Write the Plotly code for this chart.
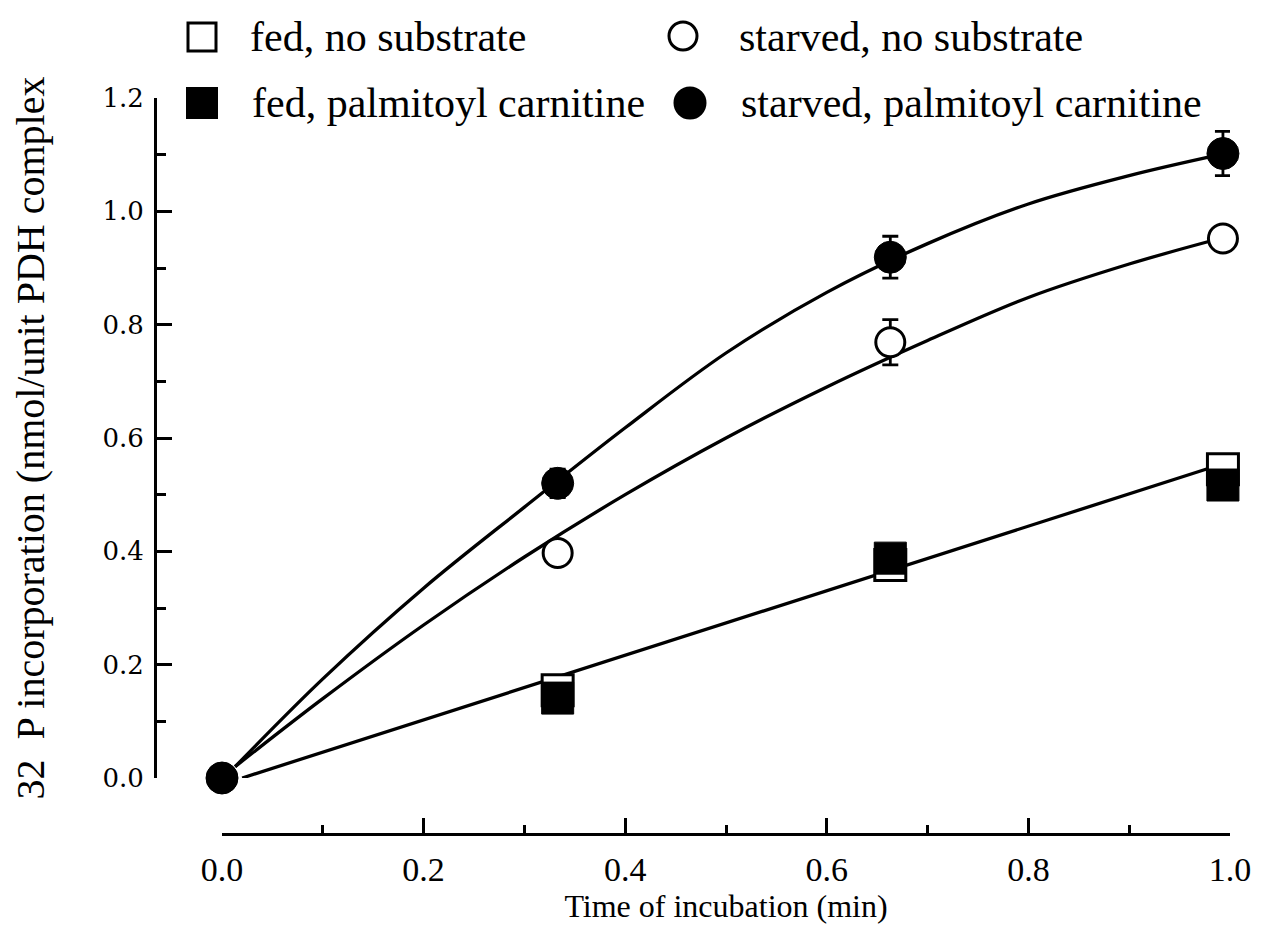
import plotly.graph_objects as go

# ---------------- data ----------------
time_points = [0.0, 0.333, 0.663, 0.993]
fed_time_points = [0.333, 0.663, 0.993]     # the origin point is drawn only as the circle

fed_no_sub = [0.155, 0.376, 0.545]
fed_palm = [0.141, 0.388, 0.517]
starved_no_sub = [0.0, 0.397, 0.769, 0.952]
starved_no_sub_err = [0.0, 0.0, 0.040, 0.0]
starved_palm = [0.0, 0.520, 0.919, 1.102]
starved_palm_err = [0.0, 0.025, 0.037, 0.039]

# fitted lines
fed_line_x = [0.02, 0.98]
fed_line_y = [0.0, 0.547]
curve_x = [0.013, 0.1, 0.2, 0.3, 0.4, 0.5, 0.6, 0.7, 0.8, 0.9, 0.99]
starved_palm_curve_y = [0.02, 0.175, 0.335, 0.478, 0.618, 0.750, 0.857, 0.943, 1.013, 1.063, 1.100]
starved_no_sub_curve_y = [0.02, 0.14, 0.27, 0.39, 0.50, 0.60, 0.69, 0.772, 0.848, 0.907, 0.952]

legend_labels = ["fed, no substrate", "starved, no substrate",
                 "fed, palmitoyl carnitine", "starved, palmitoyl carnitine"]

x_ticks = [0.0, 0.2, 0.4, 0.6, 0.8, 1.0]
y_ticks = [0.0, 0.2, 0.4, 0.6, 0.8, 1.0, 1.2]

# ---------------- layout helpers ----------------
PAGE_OFF = 8                      # default body margin of the html page
W, H = 1261 - 2 * PAGE_OFF, 939 - 2 * PAGE_OFF
def px(x):
    return (x - PAGE_OFF) / W
def py(y):
    return (H - (y - PAGE_OFF)) / H

SERIF = "Liberation Serif"
LW = 3.3

fig = go.Figure()

# fitted lines
fig.add_trace(go.Scatter(x=fed_line_x, y=fed_line_y, mode="lines",
                         line=dict(color="black", width=LW), showlegend=False))
fig.add_trace(go.Scatter(x=curve_x, y=starved_no_sub_curve_y, mode="lines",
                         line=dict(color="black", width=LW, shape="spline", smoothing=1.0),
                         showlegend=False))
fig.add_trace(go.Scatter(x=curve_x, y=starved_palm_curve_y, mode="lines",
                         line=dict(color="black", width=LW, shape="spline", smoothing=1.0),
                         showlegend=False))

# markers
fig.add_trace(go.Scatter(x=fed_time_points, y=fed_no_sub, mode="markers", name=legend_labels[0],
                         marker=dict(symbol="square", size=31, color="white",
                                     line=dict(color="black", width=3)),
                         cliponaxis=False, showlegend=False))
fig.add_trace(go.Scatter(x=fed_time_points, y=fed_palm, mode="markers", name=legend_labels[2],
                         marker=dict(symbol="square", size=32, color="black",
                                     line=dict(color="black", width=1)),
                         cliponaxis=False, showlegend=False))
fig.add_trace(go.Scatter(x=time_points, y=starved_no_sub, mode="markers", name=legend_labels[1],
                         marker=dict(symbol="circle", size=29, color="white",
                                     line=dict(color="black", width=3)),
                         error_y=dict(type="data", array=starved_no_sub_err, color="black",
                                      thickness=2.8, width=8),
                         cliponaxis=False, showlegend=False))
fig.add_trace(go.Scatter(x=time_points, y=starved_palm, mode="markers", name=legend_labels[3],
                         marker=dict(symbol="circle", size=32, color="black",
                                     line=dict(color="black", width=1)),
                         error_y=dict(type="data", array=starved_palm_err, color="black",
                                      thickness=2.8, width=8),
                         cliponaxis=False, showlegend=False))

# ---------------- manual legend ----------------
shapes = []
def sq(cx, cy, s, fill):
    shapes.append(dict(type="rect", xref="paper", yref="paper",
                       x0=px(cx - s / 2), x1=px(cx + s / 2), y0=py(cy + s / 2), y1=py(cy - s / 2),
                       fillcolor=fill, line=dict(color="black", width=3)))
def circ(cx, cy, r, fill):
    shapes.append(dict(type="circle", xref="paper", yref="paper",
                       x0=px(cx - r), x1=px(cx + r), y0=py(cy + r), y1=py(cy - r),
                       fillcolor=fill, line=dict(color="black", width=3)))

sq(202, 37, 28, "white")
circ(683, 36, 14, "white")
sq(202, 103, 29, "black")
circ(690, 103, 15, "black")

annotations = []
legend_pos = [(248, 37), (737, 37), (250, 103), (739, 103)]
for lab, (lx, ly) in zip(legend_labels, legend_pos):
    annotations.append(dict(text=lab, x=px(lx), y=py(ly), xref="paper", yref="paper",
                            xanchor="left", yanchor="middle", showarrow=False,
                            font=dict(family=SERIF, size=42, color="black")))

fig.update_layout(
    width=W, height=H,
    margin=dict(l=0, r=0, t=0, b=0, autoexpand=False),
    paper_bgcolor="white", plot_bgcolor="white",
    showlegend=False,
    shapes=shapes,
    annotations=annotations,
    xaxis=dict(
        domain=[px(222), px(1230)], range=[0, 1.0],
        anchor="free", position=py(834), automargin=False,
        showline=True, linecolor="black", linewidth=3,
        ticks="inside", ticklen=15, tickwidth=2.5, tickcolor="black",
        tickvals=x_ticks, ticktext=[f"{v:.1f}" for v in x_ticks],
        minor=dict(dtick=0.1, ticks="inside", ticklen=8, tickwidth=2.5, tickcolor="black"),
        showgrid=False, zeroline=False,
        tickfont=dict(family=SERIF, size=34, color="black"),
        ticklabelstandoff=4,
        title=dict(text="Time of incubation (min)", standoff=6,
                   font=dict(family=SERIF, size=32, color="black")),
    ),
    yaxis=dict(
        domain=[py(778), py(98)], range=[0, 1.2],
        anchor="free", position=px(155), automargin=False,
        showline=True, linecolor="black", linewidth=3,
        ticks="inside", ticklen=15, tickwidth=2.5, tickcolor="black",
        tickvals=y_ticks, ticktext=[f"{v:.1f}" for v in y_ticks],
        minor=dict(dtick=0.1, ticks="inside", ticklen=9, tickwidth=2.5, tickcolor="black"),
        showgrid=False, zeroline=False,
        tickfont=dict(family="DejaVu Serif", size=26, color="black"),
        ticklabelstandoff=5,
        title=dict(text="32  P incorporation (nmol/unit PDH complex", standoff=58,
                   font=dict(family=SERIF, size=40, color="black")),
    ),
)

fig.write_html("out.html")
